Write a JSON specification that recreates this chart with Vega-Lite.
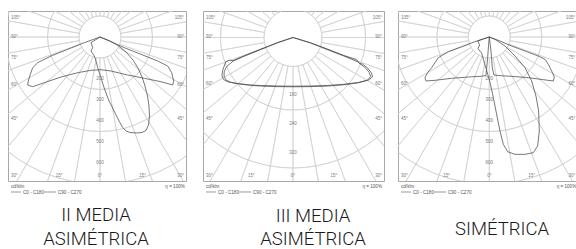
{
"$schema": "https://vega.github.io/schema/vega-lite/v6.json",
"padding": {"left": 7, "top": 10, "right": 0, "bottom": 0},
"background": "white",
"config": {"view": {"stroke": "#a8a8a8", "strokeWidth": 1}, "font": "Liberation Sans"},
"datasets": {
"r13": [{"r":100},{"r":150},{"r":200},{"r":250},{"r":300},{"r":350},{"r":400},{"r":450},{"r":500},{"r":550},{"r":600},{"r":650},{"r":700},{"r":750},{"r":800}],
"r2": [{"r":80},{"r":120},{"r":160},{"r":200},{"r":240},{"r":280},{"r":320},{"r":360},{"r":400},{"r":440},{"r":480}],
"sp": [{"a":0},{"a":10},{"a":20},{"a":30},{"a":40},{"a":50},{"a":60},{"a":70},{"a":80},{"a":90},{"a":100},{"a":110},{"a":120},{"a":130},{"a":140},{"a":150},{"a":160},{"a":170},{"a":180},{"a":190},{"a":200},{"a":210},{"a":220},{"a":230},{"a":240},{"a":250},{"a":260},{"a":270},{"a":280},{"a":290},{"a":300},{"a":310},{"a":320},{"a":330},{"a":340},{"a":350}],
"c1": [
{"s":"a","o":1,"x":0,"y":0},{"s":"a","o":2,"x":-74.8,"y":27.1},{"s":"a","o":3,"x":-153.8,"y":58.6},{"s":"a","o":4,"x":-233.3,"y":90.5},{"s":"a","o":5,"x":-296.7,"y":122.4},{"s":"a","o":6,"x":-320.5,"y":146.2},{"s":"a","o":7,"x":-331.9,"y":177.6},{"s":"a","o":8,"x":-341.4,"y":209.5},{"s":"a","o":9,"x":-344.3,"y":228.6},{"s":"a","o":10,"x":-320.5,"y":236.7},{"s":"a","o":11,"x":-265.2,"y":217.6},{"s":"a","o":12,"x":-185.7,"y":190.5},{"s":"a","o":13,"x":-106.2,"y":170},{"s":"a","o":14,"x":-42.9,"y":158.6},{"s":"a","o":15,"x":4.8,"y":155.7},{"s":"a","o":16,"x":52.4,"y":161.9},{"s":"a","o":17,"x":131.9,"y":181},{"s":"a","o":18,"x":211,"y":196.7},{"s":"a","o":19,"x":290.5,"y":212.9},{"s":"a","o":20,"x":346.2,"y":228.6},{"s":"a","o":21,"x":351,"y":209.5},{"s":"a","o":22,"x":341.4,"y":170},{"s":"a","o":23,"x":322.4,"y":138.1},{"s":"a","o":24,"x":274.8,"y":114.3},{"s":"a","o":25,"x":195.2,"y":82.4},{"s":"a","o":26,"x":115.7,"y":51},{"s":"a","o":27,"x":52.4,"y":22.4},{"s":"a","o":28,"x":0,"y":0},
{"s":"b","o":1,"x":0,"y":0},{"s":"b","o":2,"x":-42.9,"y":27.1},{"s":"b","o":3,"x":-34.8,"y":51},{"s":"b","o":4,"x":-42.9,"y":66.7},{"s":"b","o":5,"x":-27.1,"y":90.5},{"s":"b","o":6,"x":-19,"y":114.3},{"s":"b","o":7,"x":-11,"y":146.2},{"s":"b","o":8,"x":-3.3,"y":170},{"s":"b","o":9,"x":4.8,"y":193.8},{"s":"b","o":10,"x":16.7,"y":233.3},{"s":"b","o":11,"x":28.6,"y":266.7},{"s":"b","o":12,"x":42.9,"y":304.8},{"s":"b","o":13,"x":60.5,"y":338.1},{"s":"b","o":14,"x":76.2,"y":371.4},{"s":"b","o":15,"x":91.9,"y":402.4},{"s":"b","o":16,"x":108.1,"y":431},{"s":"b","o":17,"x":123.8,"y":447.6},{"s":"b","o":18,"x":142.9,"y":454.8},{"s":"b","o":19,"x":171.4,"y":457.1},{"s":"b","o":20,"x":200,"y":454.8},{"s":"b","o":21,"x":219,"y":445.2},{"s":"b","o":22,"x":231,"y":419},{"s":"b","o":23,"x":235.7,"y":376.2},{"s":"b","o":24,"x":233.3,"y":328.6},{"s":"b","o":25,"x":226.2,"y":281},{"s":"b","o":26,"x":214.3,"y":233.3},{"s":"b","o":27,"x":200,"y":190.5},{"s":"b","o":28,"x":181,"y":147.6},{"s":"b","o":29,"x":157.1,"y":109.5},{"s":"b","o":30,"x":123.8,"y":71.4},{"s":"b","o":31,"x":85.7,"y":40.5},{"s":"b","o":32,"x":42.9,"y":16.7},{"s":"b","o":33,"x":0,"y":0}
],
"c2": [
{"s":"a","o":1,"x":0,"y":0},{"s":"a","o":2,"x":-43.6,"y":14.3},{"s":"a","o":3,"x":-89.7,"y":32.6},{"s":"a","o":4,"x":-135.7,"y":51},{"s":"a","o":5,"x":-164.1,"y":63.4},{"s":"a","o":6,"x":-176,"y":62.9},{"s":"a","o":7,"x":-185.4,"y":66.8},{"s":"a","o":8,"x":-189.8,"y":78.6},{"s":"a","o":9,"x":-194.5,"y":92.4},{"s":"a","o":10,"x":-195.9,"y":106.2},{"s":"a","o":11,"x":-191.7,"y":115.9},{"s":"a","o":12,"x":-177.9,"y":122.8},{"s":"a","o":13,"x":-153.9,"y":126.9},{"s":"a","o":14,"x":-117.2,"y":131},{"s":"a","o":15,"x":-89.7,"y":132.4},{"s":"a","o":16,"x":-43.6,"y":133.8},{"s":"a","o":17,"x":0,"y":134.3},{"s":"a","o":18,"x":48.3,"y":133.8},{"s":"a","o":19,"x":94.3,"y":132.4},{"s":"a","o":20,"x":140.1,"y":129.1},{"s":"a","o":21,"x":180.7,"y":124.1},{"s":"a","o":22,"x":208.3,"y":117.2},{"s":"a","o":23,"x":219.3,"y":109},{"s":"a","o":24,"x":216.6,"y":97.9},{"s":"a","o":25,"x":205.5,"y":84.1},{"s":"a","o":26,"x":191.7,"y":73.1},{"s":"a","o":27,"x":183.4,"y":71.7},{"s":"a","o":28,"x":175.2,"y":60.7},{"s":"a","o":29,"x":140.1,"y":49.7},{"s":"a","o":30,"x":94.3,"y":31.7},{"s":"a","o":31,"x":48.3,"y":14.6},{"s":"a","o":32,"x":0,"y":0},
{"s":"b","o":1,"x":0,"y":0},{"s":"b","o":2,"x":-43.6,"y":15},{"s":"b","o":3,"x":-89.7,"y":33.5},{"s":"b","o":4,"x":-135.7,"y":52},{"s":"b","o":5,"x":-165,"y":65},{"s":"b","o":6,"x":-183,"y":80},{"s":"b","o":7,"x":-190,"y":95},{"s":"b","o":8,"x":-190,"y":108},{"s":"b","o":9,"x":-184,"y":118},{"s":"b","o":10,"x":-170,"y":124},{"s":"b","o":11,"x":-150,"y":128},{"s":"b","o":12,"x":-117,"y":132},{"s":"b","o":13,"x":-89.7,"y":134},{"s":"b","o":14,"x":-43.6,"y":135.5},{"s":"b","o":15,"x":0,"y":136},{"s":"b","o":16,"x":48,"y":135.5},{"s":"b","o":17,"x":94,"y":134},{"s":"b","o":18,"x":140,"y":130.5},{"s":"b","o":19,"x":180,"y":125},{"s":"b","o":20,"x":205,"y":118},{"s":"b","o":21,"x":214,"y":108},{"s":"b","o":22,"x":210,"y":96},{"s":"b","o":23,"x":198,"y":82},{"s":"b","o":24,"x":178,"y":67},{"s":"b","o":25,"x":140,"y":50.5},{"s":"b","o":26,"x":94,"y":32.5},{"s":"b","o":27,"x":48,"y":15},{"s":"b","o":28,"x":0,"y":0}
],
"c3": [
{"s":"a","o":1,"x":0,"y":0},{"s":"a","o":2,"x":-68.3,"y":22.2},{"s":"a","o":3,"x":-131.7,"y":46},{"s":"a","o":4,"x":-195.2,"y":69.8},{"s":"a","o":5,"x":-242.9,"y":98.4},{"s":"a","o":6,"x":-258.7,"y":122.2},{"s":"a","o":7,"x":-274.6,"y":146},{"s":"a","o":8,"x":-293.7,"y":169.8},{"s":"a","o":9,"x":-306.3,"y":193.7},{"s":"a","o":10,"x":-301.6,"y":209.5},{"s":"a","o":11,"x":-258.7,"y":206.3},{"s":"a","o":12,"x":-179.4,"y":196.8},{"s":"a","o":13,"x":-100,"y":190.5},{"s":"a","o":14,"x":-44.4,"y":187.3},{"s":"a","o":15,"x":-15.9,"y":184.1},{"s":"a","o":16,"x":-7.9,"y":98.4},{"s":"a","o":17,"x":-3.2,"y":34.9},{"s":"a","o":18,"x":0,"y":0},{"s":"a","o":19,"x":7.9,"y":66.7},{"s":"a","o":20,"x":14.3,"y":146},{"s":"a","o":21,"x":22.2,"y":181},{"s":"a","o":22,"x":50.8,"y":184.1},{"s":"a","o":23,"x":106.3,"y":187.3},{"s":"a","o":24,"x":185.7,"y":193.7},{"s":"a","o":25,"x":257.1,"y":203.2},{"s":"a","o":26,"x":304.8,"y":209.5},{"s":"a","o":27,"x":309.5,"y":190.5},{"s":"a","o":28,"x":296.8,"y":161.9},{"s":"a","o":29,"x":281,"y":130.2},{"s":"a","o":30,"x":265.1,"y":106.3},{"s":"a","o":31,"x":233.3,"y":90.5},{"s":"a","o":32,"x":169.8,"y":66.7},{"s":"a","o":33,"x":106.3,"y":42.9},{"s":"a","o":34,"x":50.8,"y":19},{"s":"a","o":35,"x":0,"y":0},
{"s":"b","o":1,"x":0,"y":0},{"s":"b","o":2,"x":-20.6,"y":6.3},{"s":"b","o":3,"x":-55.6,"y":19},{"s":"b","o":4,"x":-46,"y":38.1},{"s":"b","o":5,"x":-54,"y":55.6},{"s":"b","o":6,"x":-36.5,"y":76.2},{"s":"b","o":7,"x":-27,"y":111.1},{"s":"b","o":8,"x":-14.3,"y":154},{"s":"b","o":9,"x":1.6,"y":209.5},{"s":"b","o":10,"x":15.9,"y":273},{"s":"b","o":11,"x":31.7,"y":352.4},{"s":"b","o":12,"x":50.8,"y":447.6},{"s":"b","o":13,"x":66.7,"y":511.1},{"s":"b","o":14,"x":87.3,"y":546},{"s":"b","o":15,"x":122.2,"y":558.7},{"s":"b","o":16,"x":169.8,"y":558.7},{"s":"b","o":17,"x":209.5,"y":550.8},{"s":"b","o":18,"x":230.2,"y":519},{"s":"b","o":19,"x":238.1,"y":447.6},{"s":"b","o":20,"x":234.9,"y":352.4},{"s":"b","o":21,"x":222.2,"y":281},{"s":"b","o":22,"x":201.6,"y":209.5},{"s":"b","o":23,"x":169.8,"y":146},{"s":"b","o":24,"x":122.2,"y":90.5},{"s":"b","o":25,"x":74.6,"y":42.9},{"s":"b","o":26,"x":27,"y":11.1},{"s":"b","o":27,"x":0,"y":0}
],
"lab": [
{"p":1,"g":"L","t":"105°","x":-423.8,"y":-90.5},{"p":1,"g":"L","t":"90°","x":-423.8,"y":0},{"p":1,"g":"L","t":"75°","x":-423.8,"y":100},{"p":1,"g":"L","t":"60°","x":-423.8,"y":228.6},{"p":1,"g":"L","t":"45°","x":-423.8,"y":390.5},{"p":1,"g":"L","t":"30°","x":-423.8,"y":661.9},
{"p":1,"g":"R","t":"105°","x":400,"y":-90.5},{"p":1,"g":"R","t":"90°","x":400,"y":0},{"p":1,"g":"R","t":"75°","x":400,"y":100},{"p":1,"g":"R","t":"60°","x":400,"y":228.6},{"p":1,"g":"R","t":"45°","x":400,"y":390.5},{"p":1,"g":"R","t":"30°","x":400,"y":661.9},
{"p":1,"g":"C","t":"15°","x":-195,"y":661.9},{"p":1,"g":"C","t":"0°","x":0,"y":661.9},{"p":1,"g":"C","t":"15°","x":203,"y":661.9},
{"p":1,"g":"N","t":"200","x":0,"y":200},{"p":1,"g":"N","t":"300","x":0,"y":300},{"p":1,"g":"N","t":"400","x":0,"y":400},{"p":1,"g":"N","t":"500","x":0,"y":500},{"p":1,"g":"N","t":"600","x":0,"y":600},
{"p":1,"g":"K","t":"cd/klm","x":-423.8,"y":719},{"p":1,"g":"K","t":"C0 - C180","x":-366.7,"y":747.6},{"p":1,"g":"K","t":"C90 - C270","x":-200,"y":747.6},
{"p":1,"g":"Q","t":"η = 100%","x":404,"y":719},
{"p":1,"g":"T","t":"II MEDIA","x":-19,"y":876.2},{"p":1,"g":"T","t":"ASIMÉTRICA","x":-19,"y":990.5},
{"p":2,"g":"L","t":"105°","x":-240,"y":-54.6},{"p":2,"g":"L","t":"90°","x":-240,"y":0},{"p":2,"g":"L","t":"75°","x":-240,"y":57.4},{"p":2,"g":"L","t":"60°","x":-240,"y":129.1},{"p":2,"g":"L","t":"45°","x":-240,"y":225.7},{"p":2,"g":"L","t":"30°","x":-240,"y":382.1},
{"p":2,"g":"R","t":"105°","x":245.5,"y":-54.6},{"p":2,"g":"R","t":"90°","x":245.5,"y":0},{"p":2,"g":"R","t":"75°","x":245.5,"y":57.4},{"p":2,"g":"R","t":"60°","x":245.5,"y":129.1},{"p":2,"g":"R","t":"45°","x":245.5,"y":225.7},{"p":2,"g":"R","t":"30°","x":245.5,"y":382.1},
{"p":2,"g":"C","t":"15°","x":-115,"y":382.1},{"p":2,"g":"C","t":"0°","x":0,"y":382.1},{"p":2,"g":"C","t":"15°","x":113.1,"y":382.1},
{"p":2,"g":"N","t":"160","x":0,"y":160},{"p":2,"g":"N","t":"240","x":0,"y":240},{"p":2,"g":"N","t":"320","x":0,"y":320},
{"p":2,"g":"K","t":"cd/klm","x":-240,"y":415.2},{"p":2,"g":"K","t":"C0 - C180","x":-206.9,"y":431.7},{"p":2,"g":"K","t":"C90 - C270","x":-110.3,"y":431.7},
{"p":2,"g":"Q","t":"η = 100%","x":245.5,"y":415.2},
{"p":2,"g":"T","t":"III MEDIA","x":55.2,"y":509},{"p":2,"g":"T","t":"ASIMÉTRICA","x":55.2,"y":573.8},
{"p":3,"g":"L","t":"105°","x":-420.5,"y":-92},{"p":3,"g":"L","t":"90°","x":-420.5,"y":0},{"p":3,"g":"L","t":"75°","x":-420.5,"y":101.6},{"p":3,"g":"L","t":"60°","x":-420.5,"y":225.4},{"p":3,"g":"L","t":"45°","x":-420.5,"y":392},{"p":3,"g":"L","t":"30°","x":-420.5,"y":662},
{"p":3,"g":"R","t":"105°","x":410,"y":-92},{"p":3,"g":"R","t":"90°","x":410,"y":0},{"p":3,"g":"R","t":"75°","x":410,"y":101.6},{"p":3,"g":"R","t":"60°","x":410,"y":225.4},{"p":3,"g":"R","t":"45°","x":410,"y":392},{"p":3,"g":"R","t":"30°","x":410,"y":662},
{"p":3,"g":"C","t":"15°","x":-202.9,"y":662},{"p":3,"g":"C","t":"0°","x":0,"y":662},{"p":3,"g":"C","t":"15°","x":201.9,"y":662},
{"p":3,"g":"N","t":"200","x":0,"y":200},{"p":3,"g":"N","t":"300","x":0,"y":300},{"p":3,"g":"N","t":"400","x":0,"y":400},{"p":3,"g":"N","t":"500","x":0,"y":500},{"p":3,"g":"N","t":"600","x":0,"y":600},
{"p":3,"g":"K","t":"cd/klm","x":-420.5,"y":719},{"p":3,"g":"K","t":"C0 - C180","x":-363.3,"y":747.6},{"p":3,"g":"K","t":"C90 - C270","x":-196.7,"y":747.6},
{"p":3,"g":"Q","t":"η = 100%","x":414,"y":719},
{"p":3,"g":"T","t":"SIMÉTRICA","x":60.5,"y":942.9}
],
"leg": [
{"p":1,"x":-423.8,"x2":-376.2,"y":738.1},{"p":1,"x":-266.7,"x2":-209.5,"y":738.1},
{"p":2,"x":-240,"x2":-212.4,"y":426.2},{"p":2,"x":-149,"x2":-115.9,"y":426.2},
{"p":3,"x":-420.5,"x2":-372.9,"y":738.1},{"p":3,"x":-263.3,"x2":-206.2,"y":738.1}
]
},
"spacing": 17,
"bounds": "flush",
"hconcat": [
{
"width": 178, "height": 170,
"layer": [
{"data": {"name": "r13"}, "mark": {"type": "arc", "filled": false, "stroke": "#d0d0d0", "strokeWidth": 0.7, "theta": 0, "theta2": 6.2832, "clip": true},
 "encoding": {"x": {"datum": 0, "type": "quantitative", "scale": {"domain": [-438.1, 409.5], "nice": false, "zero": false}, "axis": null},
  "y": {"datum": 0, "type": "quantitative", "scale": {"domain": [-123.8, 685.7], "nice": false, "zero": false, "reverse": true}, "axis": null},
  "radius": {"field": "r", "type": "quantitative", "scale": {"type": "linear", "domain": [0, 1000], "range": [0, 210]}}}},
{"data": {"name": "sp"}, "mark": {"type": "arc", "filled": false, "stroke": "#d0d0d0", "strokeWidth": 0.7, "clip": true},
 "encoding": {"x": {"datum": 0, "type": "quantitative"}, "y": {"datum": 0, "type": "quantitative"},
  "theta": {"field": "a", "type": "quantitative", "stack": null, "scale": {"domain": [0, 360], "range": [0, 6.2832]}},
  "theta2": {"field": "a"},
  "radius": {"datum": 100, "type": "quantitative"}, "radius2": {"datum": 1000}}},
{"data": {"name": "c1"}, "mark": {"type": "line", "stroke": "#4a4a4a", "strokeWidth": 0.75, "clip": true},
 "encoding": {"x": {"field": "x", "type": "quantitative"}, "y": {"field": "y", "type": "quantitative"}, "order": {"field": "o", "type": "quantitative"}, "detail": {"field": "s"}}},
{"data": {"name": "lab"}, "transform": [{"filter": "datum.p == 1 && datum.g == 'L'"}], "mark": {"type": "text", "align": "left", "baseline": "middle", "fontSize": 4.5, "fill": "#7a7a7a"},
 "encoding": {"x": {"field": "x", "type": "quantitative"}, "y": {"field": "y", "type": "quantitative"}, "text": {"field": "t"}}},
{"data": {"name": "lab"}, "transform": [{"filter": "datum.p == 1 && datum.g == 'R'"}], "mark": {"type": "text", "align": "right", "baseline": "middle", "fontSize": 4.5, "fill": "#7a7a7a"},
 "encoding": {"x": {"field": "x", "type": "quantitative"}, "y": {"field": "y", "type": "quantitative"}, "text": {"field": "t"}}},
{"data": {"name": "lab"}, "transform": [{"filter": "datum.p == 1 && (datum.g == 'C' || datum.g == 'N')"}], "mark": {"type": "text", "align": "center", "baseline": "middle", "fontSize": 4.5, "fill": "#7a7a7a"},
 "encoding": {"x": {"field": "x", "type": "quantitative"}, "y": {"field": "y", "type": "quantitative"}, "text": {"field": "t"}}},
{"data": {"name": "lab"}, "transform": [{"filter": "datum.p == 1 && datum.g == 'K'"}], "mark": {"type": "text", "align": "left", "baseline": "alphabetic", "fontSize": 4.6, "fill": "#555555"},
 "encoding": {"x": {"field": "x", "type": "quantitative"}, "y": {"field": "y", "type": "quantitative"}, "text": {"field": "t"}}},
{"data": {"name": "lab"}, "transform": [{"filter": "datum.p == 1 && datum.g == 'Q'"}], "mark": {"type": "text", "align": "right", "baseline": "alphabetic", "fontSize": 4.6, "fill": "#555555"},
 "encoding": {"x": {"field": "x", "type": "quantitative"}, "y": {"field": "y", "type": "quantitative"}, "text": {"field": "t"}}},
{"data": {"name": "leg"}, "transform": [{"filter": "datum.p == 1"}], "mark": {"type": "rule", "stroke": "#555555", "strokeWidth": 0.6},
 "encoding": {"x": {"field": "x", "type": "quantitative"}, "x2": {"field": "x2"}, "y": {"field": "y", "type": "quantitative"}}},
{"data": {"name": "lab"}, "transform": [{"filter": "datum.p == 1 && datum.g == 'T'"}], "mark": {"type": "text", "align": "center", "baseline": "alphabetic", "fontSize": 18.5, "fill": "#1a1a1a", "font": "Roboto", "fontWeight": 300},
 "encoding": {"x": {"field": "x", "type": "quantitative"}, "y": {"field": "y", "type": "quantitative"}, "text": {"field": "t"}}}
]
},
{
"spacing": 14,
"bounds": "flush",
"hconcat": [
{
"width": 181, "height": 170,
"layer": [
{"data": {"name": "r2"}, "mark": {"type": "arc", "filled": false, "stroke": "#d0d0d0", "strokeWidth": 0.7, "theta": 0, "theta2": 6.2832, "clip": true},
 "encoding": {"x": {"datum": 0, "type": "quantitative", "scale": {"domain": [-248.3, 251.0], "nice": false, "zero": false}, "axis": null},
  "y": {"datum": 0, "type": "quantitative", "scale": {"domain": [-73.1, 395.9], "nice": false, "zero": false, "reverse": true}, "axis": null},
  "radius": {"field": "r", "type": "quantitative", "scale": {"type": "linear", "domain": [0, 1000], "range": [0, 362.5]}}}},
{"data": {"name": "sp"}, "mark": {"type": "arc", "filled": false, "stroke": "#d0d0d0", "strokeWidth": 0.7, "clip": true},
 "encoding": {"x": {"datum": 0, "type": "quantitative"}, "y": {"datum": 0, "type": "quantitative"},
  "theta": {"field": "a", "type": "quantitative", "stack": null, "scale": {"domain": [0, 360], "range": [0, 6.2832]}},
  "theta2": {"field": "a"},
  "radius": {"datum": 80, "type": "quantitative"}, "radius2": {"datum": 1000}}},
{"data": {"name": "c2"}, "mark": {"type": "line", "stroke": "#4a4a4a", "strokeWidth": 0.75, "clip": true},
 "encoding": {"x": {"field": "x", "type": "quantitative"}, "y": {"field": "y", "type": "quantitative"}, "order": {"field": "o", "type": "quantitative"}, "detail": {"field": "s"}}},
{"data": {"name": "lab"}, "transform": [{"filter": "datum.p == 2 && datum.g == 'L'"}], "mark": {"type": "text", "align": "left", "baseline": "middle", "fontSize": 4.5, "fill": "#7a7a7a"},
 "encoding": {"x": {"field": "x", "type": "quantitative"}, "y": {"field": "y", "type": "quantitative"}, "text": {"field": "t"}}},
{"data": {"name": "lab"}, "transform": [{"filter": "datum.p == 2 && datum.g == 'R'"}], "mark": {"type": "text", "align": "right", "baseline": "middle", "fontSize": 4.5, "fill": "#7a7a7a"},
 "encoding": {"x": {"field": "x", "type": "quantitative"}, "y": {"field": "y", "type": "quantitative"}, "text": {"field": "t"}}},
{"data": {"name": "lab"}, "transform": [{"filter": "datum.p == 2 && (datum.g == 'C' || datum.g == 'N')"}], "mark": {"type": "text", "align": "center", "baseline": "middle", "fontSize": 4.5, "fill": "#7a7a7a"},
 "encoding": {"x": {"field": "x", "type": "quantitative"}, "y": {"field": "y", "type": "quantitative"}, "text": {"field": "t"}}},
{"data": {"name": "lab"}, "transform": [{"filter": "datum.p == 2 && datum.g == 'K'"}], "mark": {"type": "text", "align": "left", "baseline": "alphabetic", "fontSize": 4.6, "fill": "#555555"},
 "encoding": {"x": {"field": "x", "type": "quantitative"}, "y": {"field": "y", "type": "quantitative"}, "text": {"field": "t"}}},
{"data": {"name": "lab"}, "transform": [{"filter": "datum.p == 2 && datum.g == 'Q'"}], "mark": {"type": "text", "align": "right", "baseline": "alphabetic", "fontSize": 4.6, "fill": "#555555"},
 "encoding": {"x": {"field": "x", "type": "quantitative"}, "y": {"field": "y", "type": "quantitative"}, "text": {"field": "t"}}},
{"data": {"name": "leg"}, "transform": [{"filter": "datum.p == 2"}], "mark": {"type": "rule", "stroke": "#555555", "strokeWidth": 0.6},
 "encoding": {"x": {"field": "x", "type": "quantitative"}, "x2": {"field": "x2"}, "y": {"field": "y", "type": "quantitative"}}},
{"data": {"name": "lab"}, "transform": [{"filter": "datum.p == 2 && datum.g == 'T'"}], "mark": {"type": "text", "align": "center", "baseline": "alphabetic", "fontSize": 18.5, "fill": "#1a1a1a", "font": "Roboto", "fontWeight": 300},
 "encoding": {"x": {"field": "x", "type": "quantitative"}, "y": {"field": "y", "type": "quantitative"}, "text": {"field": "t"}}}
]
},
{
"width": 179, "height": 170,
"layer": [
{"data": {"name": "r13"}, "mark": {"type": "arc", "filled": false, "stroke": "#d0d0d0", "strokeWidth": 0.7, "theta": 0, "theta2": 6.2832, "clip": true},
 "encoding": {"x": {"datum": 0, "type": "quantitative", "scale": {"domain": [-434.8, 417.6], "nice": false, "zero": false}, "axis": null},
  "y": {"datum": 0, "type": "quantitative", "scale": {"domain": [-123.8, 685.7], "nice": false, "zero": false, "reverse": true}, "axis": null},
  "radius": {"field": "r", "type": "quantitative", "scale": {"type": "linear", "domain": [0, 1000], "range": [0, 210]}}}},
{"data": {"name": "sp"}, "mark": {"type": "arc", "filled": false, "stroke": "#d0d0d0", "strokeWidth": 0.7, "clip": true},
 "encoding": {"x": {"datum": 0, "type": "quantitative"}, "y": {"datum": 0, "type": "quantitative"},
  "theta": {"field": "a", "type": "quantitative", "stack": null, "scale": {"domain": [0, 360], "range": [0, 6.2832]}},
  "theta2": {"field": "a"},
  "radius": {"datum": 100, "type": "quantitative"}, "radius2": {"datum": 1000}}},
{"data": {"name": "c3"}, "mark": {"type": "line", "stroke": "#4a4a4a", "strokeWidth": 0.75, "clip": true},
 "encoding": {"x": {"field": "x", "type": "quantitative"}, "y": {"field": "y", "type": "quantitative"}, "order": {"field": "o", "type": "quantitative"}, "detail": {"field": "s"}}},
{"data": {"name": "lab"}, "transform": [{"filter": "datum.p == 3 && datum.g == 'L'"}], "mark": {"type": "text", "align": "left", "baseline": "middle", "fontSize": 4.5, "fill": "#7a7a7a"},
 "encoding": {"x": {"field": "x", "type": "quantitative"}, "y": {"field": "y", "type": "quantitative"}, "text": {"field": "t"}}},
{"data": {"name": "lab"}, "transform": [{"filter": "datum.p == 3 && datum.g == 'R'"}], "mark": {"type": "text", "align": "right", "baseline": "middle", "fontSize": 4.5, "fill": "#7a7a7a"},
 "encoding": {"x": {"field": "x", "type": "quantitative"}, "y": {"field": "y", "type": "quantitative"}, "text": {"field": "t"}}},
{"data": {"name": "lab"}, "transform": [{"filter": "datum.p == 3 && (datum.g == 'C' || datum.g == 'N')"}], "mark": {"type": "text", "align": "center", "baseline": "middle", "fontSize": 4.5, "fill": "#7a7a7a"},
 "encoding": {"x": {"field": "x", "type": "quantitative"}, "y": {"field": "y", "type": "quantitative"}, "text": {"field": "t"}}},
{"data": {"name": "lab"}, "transform": [{"filter": "datum.p == 3 && datum.g == 'K'"}], "mark": {"type": "text", "align": "left", "baseline": "alphabetic", "fontSize": 4.6, "fill": "#555555"},
 "encoding": {"x": {"field": "x", "type": "quantitative"}, "y": {"field": "y", "type": "quantitative"}, "text": {"field": "t"}}},
{"data": {"name": "lab"}, "transform": [{"filter": "datum.p == 3 && datum.g == 'Q'"}], "mark": {"type": "text", "align": "right", "baseline": "alphabetic", "fontSize": 4.6, "fill": "#555555"},
 "encoding": {"x": {"field": "x", "type": "quantitative"}, "y": {"field": "y", "type": "quantitative"}, "text": {"field": "t"}}},
{"data": {"name": "leg"}, "transform": [{"filter": "datum.p == 3"}], "mark": {"type": "rule", "stroke": "#555555", "strokeWidth": 0.6},
 "encoding": {"x": {"field": "x", "type": "quantitative"}, "x2": {"field": "x2"}, "y": {"field": "y", "type": "quantitative"}}},
{"data": {"name": "lab"}, "transform": [{"filter": "datum.p == 3 && datum.g == 'T'"}], "mark": {"type": "text", "align": "center", "baseline": "alphabetic", "fontSize": 18.5, "fill": "#1a1a1a", "font": "Roboto", "fontWeight": 300},
 "encoding": {"x": {"field": "x", "type": "quantitative"}, "y": {"field": "y", "type": "quantitative"}, "text": {"field": "t"}}}
]
}
]
}
]
}
